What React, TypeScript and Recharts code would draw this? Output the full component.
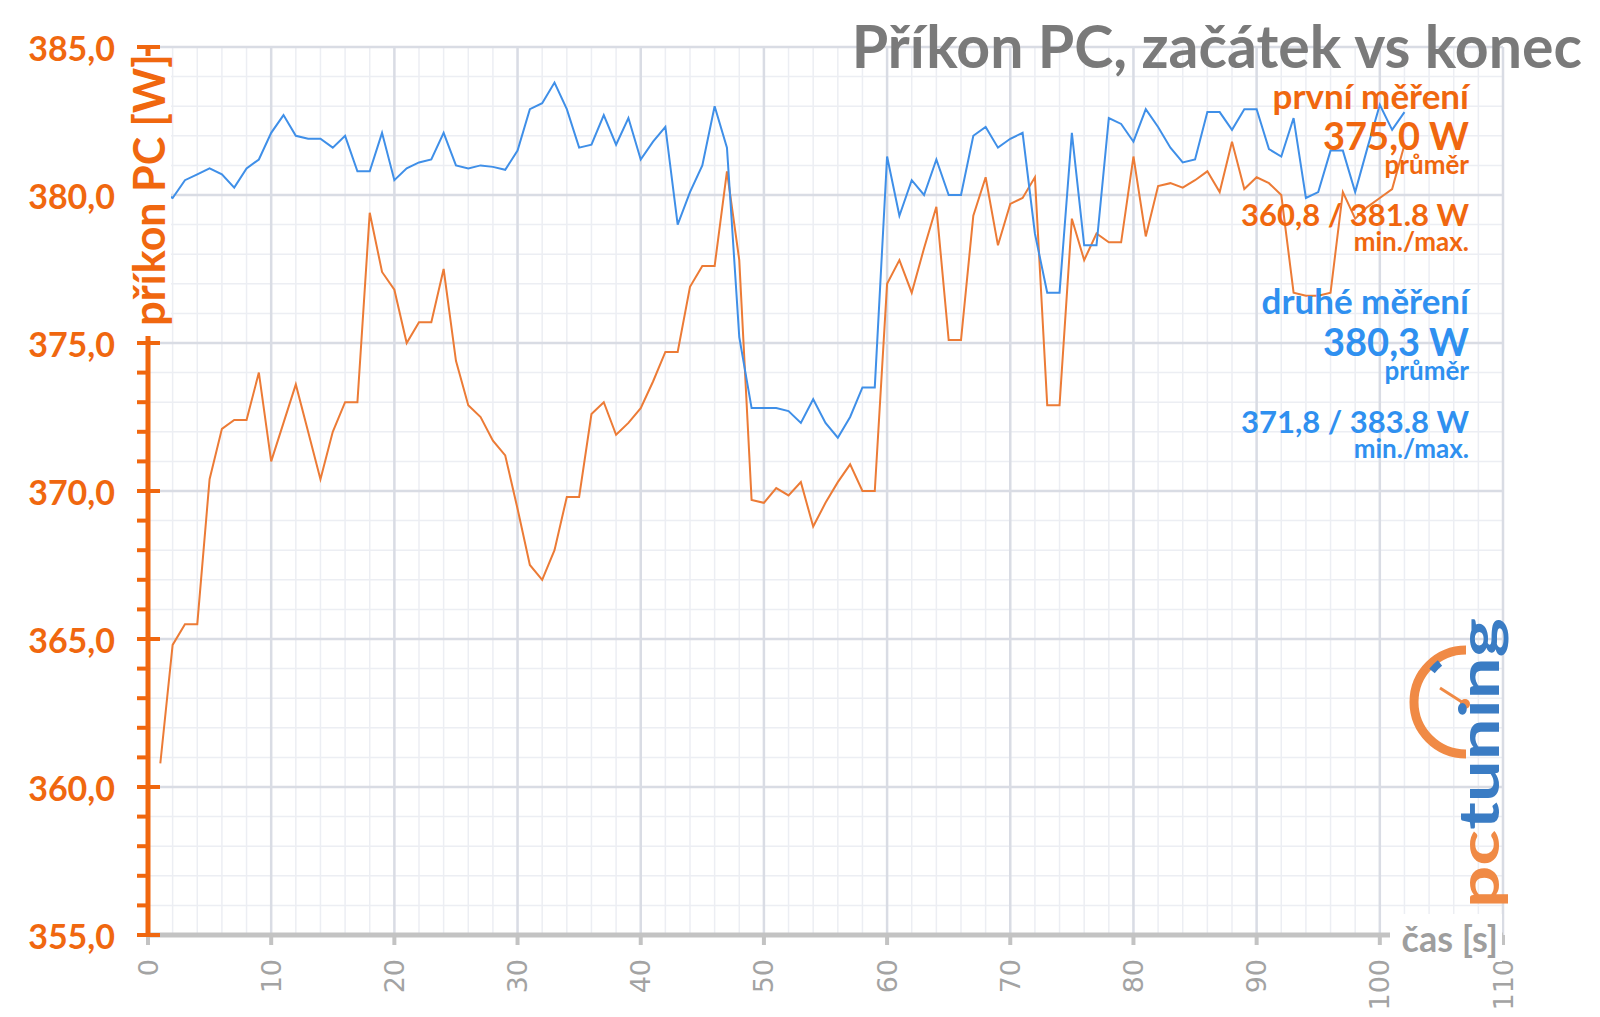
import { CartesianGrid, Line, LineChart, XAxis, YAxis } from 'recharts';

// první měření (začátek) – příkon ve W, jedna hodnota za sekundu od t = 1 s
const prvni = [
  360.8, 364.8, 365.5, 365.5, 370.4, 372.1, 372.4, 372.4, 374.0, 371.0,
  372.3, 373.6, 372.0, 370.4, 372.0, 373.0, 373.0, 379.4, 377.4, 376.8,
  375.0, 375.7, 375.7, 377.5, 374.4, 372.9, 372.5, 371.7, 371.2, 369.4,
  367.5, 367.0, 368.0, 369.8, 369.8, 372.6, 373.0, 371.9, 372.3, 372.8,
  373.7, 374.7, 374.7, 376.9, 377.6, 377.6, 380.8, 377.8, 369.7, 369.6,
  370.1, 369.85, 370.3, 368.8, 369.6, 370.3, 370.9, 370.0, 370.0, 377.0,
  377.8, 376.7, 378.2, 379.6, 375.1, 375.1, 379.3, 380.6, 378.3, 379.7,
  379.9, 380.6, 372.9, 372.9, 379.2, 377.8, 378.7, 378.4, 378.4, 381.3,
  378.6, 380.3, 380.4, 380.25, 380.5, 380.8, 380.1, 381.8, 380.2, 380.6,
  380.4, 380.0, 376.7, 376.6, 376.6, 376.7, 380.1, 379.2, 379.6, 379.9,
  380.2, 381.7,
];

// druhé měření (konec)
const druhe = [
  380.1, 379.9, 380.5, 380.7, 380.9, 380.7, 380.25, 380.9, 381.2, 382.1,
  382.7, 382.0, 381.9, 381.9, 381.6, 382.0, 380.8, 380.8, 382.1, 380.5,
  380.9, 381.1, 381.2, 382.1, 381.0, 380.9, 381.0, 380.95, 380.85, 381.5,
  382.9, 383.1, 383.8, 382.9, 381.6, 381.7, 382.7, 381.7, 382.6, 381.2,
  381.8, 382.3, 379.0, 380.1, 381.0, 383.0, 381.6, 375.2, 372.8, 372.8,
  372.8, 372.7, 372.3, 373.1, 372.3, 371.8, 372.5, 373.5, 373.5, 381.3,
  379.3, 380.5, 380.0, 381.2, 380.0, 380.0, 382.0, 382.3, 381.6, 381.9,
  382.1, 378.7, 376.7, 376.7, 382.1, 378.3, 378.3, 382.6, 382.4, 381.8,
  382.9, 382.3, 381.6, 381.1, 381.2, 382.8, 382.8, 382.2, 382.9, 382.9,
  381.55, 381.3, 382.6, 379.9, 380.1, 381.5, 381.5, 380.1, 381.6, 383.05,
  382.2, 382.8,
];

const casTicks = [0, 10, 20, 30, 40, 50, 60, 70, 80, 90, 100, 110];
const casMinor = [
  0, 2, 4, 6, 8, 10, 12, 14, 16, 18, 20, 22, 24, 26, 28, 30, 32, 34, 36, 38,
  40, 42, 44, 46, 48, 50, 52, 54, 56, 58, 60, 62, 64, 66, 68, 70, 72, 74, 76,
  78, 80, 82, 84, 86, 88, 90, 92, 94, 96, 98, 100, 102, 104, 106, 108, 110,
];
const wattTicks = [
  355, 356, 357, 358, 359, 360, 361, 362, 363, 364, 365, 366, 367, 368, 369,
  370, 371, 372, 373, 374, 375, 376, 377, 378, 379, 380, 381, 382, 383, 384, 385,
];
const wattMajor = [355, 360, 365, 370, 375, 380, 385];

const ORANZ = '#f0670f';
const MODRA = '#2f90f0';
const CARA_ORANZ = '#ec7b36';
const CARA_MODRA = '#3f8fe8';
const PISMO = 'Lato, "Open Sans", sans-serif';

const data = prvni.map((v, i) => ({ cas: i + 1, prvni: v, druhe: druhe[i] }));

function TickY({ x, y, payload }: any) {
  const hlavni = payload.value % 5 === 0;
  return (
    <g>
      <line x1={x - 11} x2={hlavni ? x + 12 : x} y1={y} y2={y} stroke={ORANZ} strokeWidth={4} />
      {hlavni && (
        <text
          x={x - 33}
          y={y}
          textAnchor="end"
          dominantBaseline="central"
          fill={ORANZ}
          fontSize={34}
          fontWeight={700}
          fontFamily={PISMO}
        >
          {payload.value.toFixed(1).replace('.', ',')}
        </text>
      )}
    </g>
  );
}

function TickX({ x, y, payload }: any) {
  return (
    <g>
      <line x1={x} x2={x} y1={y} y2={y + 10} stroke="#c3c3c3" strokeWidth={4} />
      <text
        transform={`translate(${x},${y + 24}) rotate(-90)`}
        textAnchor="end"
        dominantBaseline="central"
        fill="#a3a3a3"
        fontSize={27}
        fontFamily="DejaVu Sans"
      >
        {payload.value}
      </text>
    </g>
  );
}

function Popisky() {
  const t = (txt: string, y: number, size: number, fill: string) => (
    <text x={1469} y={y} textAnchor="end" fill={fill} fontSize={size} fontWeight={700} fontFamily={PISMO}>
      {txt}
    </text>
  );
  return (
    <svg
      width={1600}
      height={1017}
      style={{ position: 'absolute', left: 0, top: 0, pointerEvents: 'none' }}
    >
      <text x={1582} y={68} textAnchor="end" fill="#7a7a7a" fontSize={59} fontWeight={700} fontFamily={PISMO}>
        Příkon PC, začátek vs konec
      </text>

      {t('první měření', 109, 35, ORANZ)}
      {t('375,0 W', 150, 38, ORANZ)}
      {t('průměr', 174, 26, ORANZ)}
      {t('360,8 / 381.8 W', 226, 31, ORANZ)}
      {t('min./max.', 251, 26, ORANZ)}
      {t('druhé měření', 314, 35, MODRA)}
      {t('380,3 W', 356, 38, MODRA)}
      {t('průměr', 380, 26, MODRA)}
      {t('371,8 / 383.8 W', 433, 31, MODRA)}
      {t('min./max.', 458, 26, MODRA)}

      {/* popisek osy Y přes čáru osy */}
      <rect x={125} y={56} width={46} height={280} fill="#fff" />
      <text
        transform="translate(148,190) rotate(-90)"
        textAnchor="middle"
        dominantBaseline="central"
        fill={ORANZ}
        fontSize={43}
        fontWeight={700}
        fontFamily={PISMO}
      >
        příkon PC [W]
      </text>

      {/* popisek osy X */}
      <rect x={1390} y={914} width={112} height={48} fill="#fff" />
      <text x={1498} y={938} textAnchor="end" dominantBaseline="central" fill="#9e9e9e" fontSize={36} fontWeight={700} fontFamily={PISMO}>
        čas [s]
      </text>

      {/* logo */}
      <path d="M 1466 650 A 52 52 0 0 0 1466 754" stroke="#f08a45" strokeWidth={9} fill="none" />
      <path d="M 1440 663 A 46 46 0 0 0 1432 671" stroke="#3a7cc4" strokeWidth={7} fill="none" />
      <line x1={1440} y1={688} x2={1465} y2={704} stroke="#f08a45" strokeWidth={3} />
      <circle cx={1465} cy={704} r={5} fill="#f08a45" />
      <text
        transform="translate(1499,908) rotate(-90)"
        fontSize={56}
        fontWeight={700}
        fontFamily={PISMO}
        textLength={290}
        lengthAdjust="spacingAndGlyphs"
      >
        <tspan fill="#f08a45">pc</tspan>
        <tspan fill="#3a7cc4">tuning</tspan>
      </text>
    </svg>
  );
}

export default function App() {
  return (
    <div style={{ position: 'absolute', left: 0, top: 0, width: 1600, height: 1017, background: '#fff' }}>
      <LineChart
        width={1600}
        height={1017}
        data={data}
        margin={{ top: 47, right: 97, bottom: 22, left: 100 }}
      >
        <CartesianGrid
          horizontalValues={wattTicks}
          verticalValues={casMinor}
          stroke="#eceef3"
          strokeWidth={1.5}
        />
        <CartesianGrid
          horizontalValues={wattMajor}
          verticalValues={casTicks}
          stroke="#d9dce4"
          strokeWidth={2.5}
        />
        <XAxis
          dataKey="cas"
          type="number"
          domain={[0, 110]}
          ticks={casTicks}
          interval={0}
          height={60}
          tickSize={0}
          tickMargin={0}
          tickLine={false}
          axisLine={{ stroke: '#c3c3c3', strokeWidth: 5 }}
          tick={<TickX />}
        />
        <YAxis
          type="number"
          domain={[355, 385]}
          ticks={wattTicks}
          interval={0}
          width={48}
          tickSize={0}
          tickMargin={0}
          tickLine={false}
          axisLine={{ stroke: ORANZ, strokeWidth: 5 }}
          tick={<TickY />}
        />
        <Line
          type="linear"
          dataKey="prvni"
          stroke={CARA_ORANZ}
          strokeWidth={2}
          dot={false}
          isAnimationActive={false}
        />
        <Line
          type="linear"
          dataKey="druhe"
          stroke={CARA_MODRA}
          strokeWidth={2}
          dot={false}
          isAnimationActive={false}
        />
      </LineChart>
      <Popisky />
    </div>
  );
}
